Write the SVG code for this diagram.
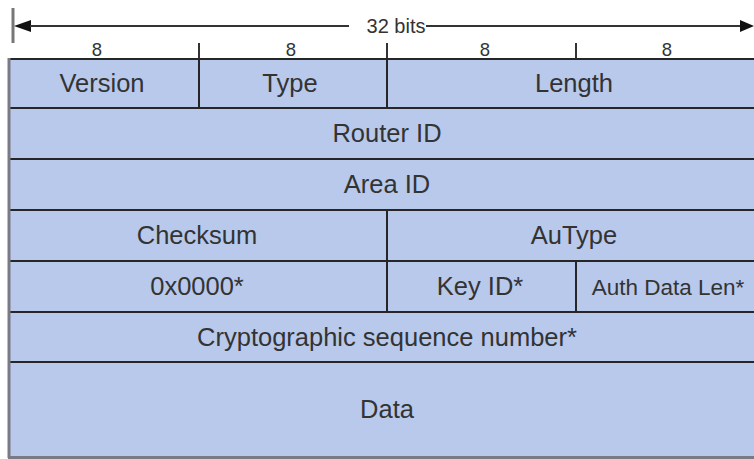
<svg xmlns="http://www.w3.org/2000/svg" width="754" height="459" viewBox="0 0 754 459">
<style>
.cell{fill:#b8c9ec;stroke:#262626;stroke-width:2}
.t{font-family:"Liberation Sans",Arial,sans-serif;font-size:25.5px;fill:#333;text-anchor:middle}
.s{font-family:"Liberation Sans",Arial,sans-serif;font-size:18.5px;fill:#333;text-anchor:middle}
.dim{stroke:#333;stroke-width:2;fill:none}
.edge{stroke:#7a7a84;stroke-width:3}
</style>
<rect width="754" height="459" fill="#fff"/>
<g id="dimension">
<line x1="13" y1="8" x2="13" y2="43" stroke="#777" stroke-width="3"/>
<path d="M14,26 L31,20 L31,32 Z" fill="#111"/>
<line x1="30" y1="26" x2="349" y2="26" class="dim"/>
<line x1="426" y1="26" x2="742" y2="26" class="dim"/>
<path d="M754,26 L740,20 L740,32 Z" fill="#111"/>
<text x="396" y="33" class="s" style="font-size:20px">32 bits</text>
<line x1="199" y1="43" x2="199" y2="59" class="dim"/>
<line x1="387" y1="43" x2="387" y2="59" class="dim"/>
<line x1="576" y1="43" x2="576" y2="59" class="dim"/>
<text x="97" y="56" class="s">8</text>
<text x="291" y="56" class="s">8</text>
<text x="485" y="56" class="s">8</text>
<text x="667" y="56" class="s">8</text>
</g>
<g id="version"><rect class="cell" x="9" y="59" width="190" height="49"/><text class="t" x="102" y="92">Version</text></g>
<g id="type"><rect class="cell" x="199" y="59" width="188" height="49"/><text class="t" x="290" y="92">Type</text></g>
<g id="length"><rect class="cell" x="387" y="59" width="376" height="49"/><text class="t" x="574" y="92">Length</text></g>
<g id="router-id"><rect class="cell" x="9" y="108" width="754" height="51"/><text class="t" x="387" y="142">Router ID</text></g>
<g id="area-id"><rect class="cell" x="9" y="159" width="754" height="51"/><text class="t" x="387" y="193">Area ID</text></g>
<g id="checksum"><rect class="cell" x="9" y="210" width="378" height="51"/><text class="t" x="197" y="244">Checksum</text></g>
<g id="autype"><rect class="cell" x="387" y="210" width="376" height="51"/><text class="t" x="574" y="244">AuType</text></g>
<g id="zero"><rect class="cell" x="9" y="261" width="378" height="51"/><text class="t" x="197" y="295">0x0000*</text></g>
<g id="key-id"><rect class="cell" x="387" y="261" width="189" height="51"/><text class="t" x="480" y="295">Key ID*</text></g>
<g id="auth-data-len"><rect class="cell" x="576" y="261" width="187" height="51"/><text class="t" x="668" y="295" style="font-size:22.5px">Auth Data Len*</text></g>
<g id="crypto-seq"><rect class="cell" x="9" y="312" width="754" height="50"/><text class="t" x="387" y="346">Cryptographic sequence number*</text></g>
<g id="data"><rect class="cell" x="9" y="362" width="754" height="95"/><text class="t" x="387" y="418">Data</text></g>
<g id="outer-edges">
<line class="edge" x1="9" y1="58" x2="9" y2="458"/>
<line class="edge" x1="8" y1="457.5" x2="754" y2="457.5"/>
</g>
</svg>
